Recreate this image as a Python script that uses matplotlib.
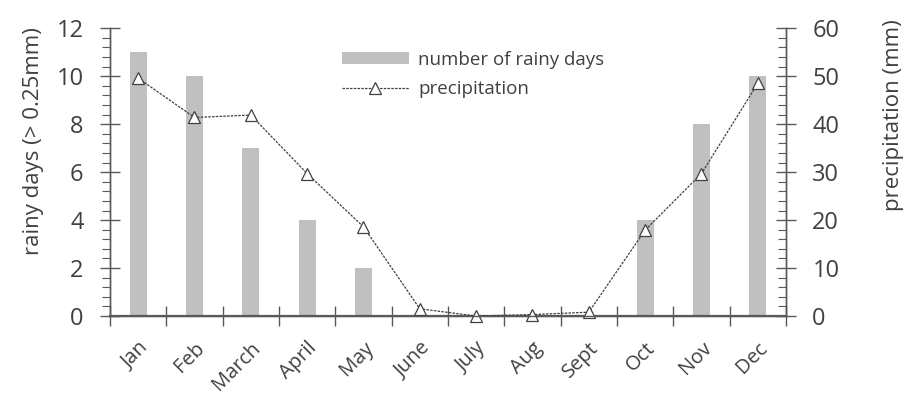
import matplotlib
matplotlib.use("Agg")
import matplotlib.pyplot as plt
from matplotlib.ticker import MultipleLocator, FixedLocator, NullFormatter

months = ["Jan", "Feb", "March", "April", "May", "June", "July", "Aug", "Sept", "Oct", "Nov", "Dec"]
rainy_days = [11, 10, 7, 4, 2, 0, 0, 0, 0, 4, 8, 10]
precip_mm = [49.6, 41.4, 41.9, 29.7, 18.6, 1.5, 0.0, 0.3, 0.8, 17.9, 29.7, 48.5]

plt.rcParams['font.family'] = ['Open Sans', 'DejaVu Sans']
txt = "#404040"
axc = "#595959"

fig = plt.figure(figsize=(9.06, 3.98), dpi=100)
ax = fig.add_axes([0.1214, 0.206, 0.7461, 0.723])
ax2 = ax.twinx()

x = list(range(len(months)))
bars = ax.bar(x, rainy_days, width=0.3, color="#c0c0c0", zorder=1,
              label="number of rainy days")
line, = ax2.plot(x, precip_mm, color="#404040", lw=0.9, ls=(0, (2, 1)),
                 marker="^", markersize=9, markerfacecolor="white",
                 markeredgecolor="#404040", markeredgewidth=0.9,
                 label="precipitation", clip_on=False)

ax.set_xlim(-0.5, 11.5)
ax.set_ylim(0, 12)
ax2.set_ylim(0, 60)

for a in (ax, ax2):
    a.spines["top"].set_visible(False)
    for s in ("left", "right", "bottom"):
        a.spines[s].set_color(axc)
        a.spines[s].set_linewidth(1.0)
ax.spines["bottom"].set_linewidth(1.6)

# left y axis
ax.yaxis.set_major_locator(MultipleLocator(2))
ax.yaxis.set_minor_locator(MultipleLocator(0.4))
ax.tick_params(axis="y", which="major", direction="inout", length=14, width=1,
               color=axc, labelsize=17, labelcolor=txt, pad=12)
ax.tick_params(axis="y", which="minor", direction="out", length=6, width=0.8, color=axc)

# right y axis
ax2.yaxis.set_major_locator(MultipleLocator(10))
ax2.yaxis.set_minor_locator(MultipleLocator(2))
ax2.tick_params(axis="y", which="major", direction="inout", length=14, width=1,
                color=axc, labelsize=17, labelcolor=txt, pad=12)
ax2.tick_params(axis="y", which="minor", direction="in", length=6, width=0.8, color=axc)

# x axis: ticks at category boundaries, labels at centers
ax.xaxis.set_major_locator(FixedLocator([i - 0.5 for i in range(13)]))
ax.xaxis.set_major_formatter(NullFormatter())
ax.xaxis.set_minor_locator(FixedLocator(x))
ax.set_xticklabels(months, minor=True, rotation=45, ha="right", rotation_mode="anchor")
ax.tick_params(axis="x", which="major", direction="inout", length=14, width=1, color=axc)
ax.tick_params(axis="x", which="minor", length=0, labelsize=14.5, labelcolor=txt, pad=16)

ax.set_ylabel("rainy days (> 0.25mm)", fontsize=16, color=txt)
ax.yaxis.set_label_coords(-0.098, 0.608)
ax2.set_ylabel("precipitation (mm)", fontsize=16, color=txt)
ax2.yaxis.set_label_coords(1.143, 0.698)

ax.set_zorder(ax2.get_zorder() - 1)
ax.patch.set_visible(True)
ax2.patch.set_visible(False)

leg = fig.legend([bars, line], ["number of rainy days", "precipitation"],
                 loc="upper left", bbox_to_anchor=(0.359, 0.915), frameon=False,
                 fontsize=13.5, labelcolor=txt, handlelength=3.55, handleheight=0.6,
                 labelspacing=0.6, handletextpad=0.5)

fig.savefig("out.png", dpi=100)
